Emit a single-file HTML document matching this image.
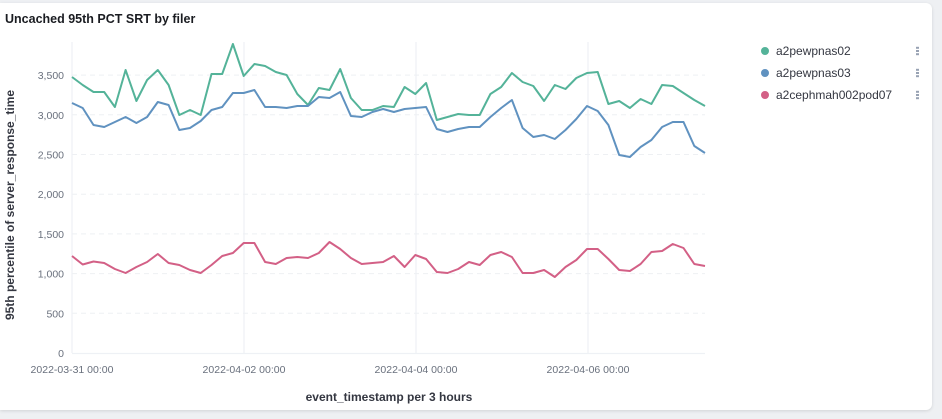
<!DOCTYPE html>
<html><head><meta charset="utf-8"><style>
html,body{margin:0;padding:0;background:#eef0f3;width:942px;height:419px;overflow:hidden;font-family:"Liberation Sans",sans-serif}
.card{position:absolute;left:0;top:3px;width:932px;height:407px;background:#fff;border-radius:0 6px 6px 0;box-shadow:0 1px 3px rgba(0,0,0,.12)}
svg{position:absolute;left:0;top:0}
</style></head><body>
<div class="card"></div>
<svg width="942" height="419" id="s" font-family="Liberation Sans, sans-serif">
<text x="5" y="23" font-size="12.5" font-weight="bold" fill="#1a1c21">Uncached 95th PCT SRT by filer</text>
<g stroke="#eef0f3" stroke-width="1" stroke-dasharray="5,4" id="grid"></g>
<g stroke="#eef1f5" stroke-width="1.2">
<line x1="72" y1="42" x2="72" y2="353"/><line x1="244" y1="42" x2="244" y2="353"/><line x1="416" y1="42" x2="416" y2="353"/><line x1="588" y1="42" x2="588" y2="353"/>
<line x1="72" y1="353.5" x2="705" y2="353.5"/></g>
<g font-size="10.5" fill="#69707d" text-anchor="end" id="yl"></g>
<g font-size="10.5" fill="#69707d" text-anchor="middle">
<text x="72" y="373">2022-03-31 00:00</text><text x="244" y="373">2022-04-02 00:00</text><text x="416" y="373">2022-04-04 00:00</text><text x="588" y="373">2022-04-06 00:00</text></g>
<text x="389" y="401" font-size="12" font-weight="bold" fill="#343741" text-anchor="middle">event_timestamp per 3 hours</text>
<text transform="translate(14,205) rotate(-90)" font-size="12" font-weight="bold" fill="#343741" text-anchor="middle">95th percentile of server_response_time</text>
<g fill="none" stroke-width="2" stroke-linejoin="round" id="lines"></g>
<g font-size="12" fill="#343741">
<circle cx="765" cy="51" r="4" fill="#54b399"/><text x="776" y="55">a2pewpnas02</text>
<circle cx="765" cy="73" r="4" fill="#6092c0"/><text x="776" y="77">a2pewpnas03</text>
<circle cx="765" cy="95" r="4" fill="#d36086"/><text x="776" y="99">a2cephmah002pod07</text>
</g>
<g fill="#98a2b3" id="dots"></g>
</svg>
<script>
var ns="http://www.w3.org/2000/svg";
function el(t,a,p){var e=document.createElementNS(ns,t);for(var k in a)e.setAttribute(k,a[k]);document.getElementById(p).appendChild(e);return e;}
var labs=["0","500","1,000","1,500","2,000","2,500","3,000","3,500"];
for(var i=0;i<8;i++){var y=353-i*39.7;if(i>0)el("line",{x1:72,x2:705,y1:y,y2:y},"grid");var t=el("text",{x:64,y:y+4},"yl");t.textContent=labs[i];}
var g=[77,85,92,92,107,70,101,80,70,85,115,110,115,74,74,44,76,64,66,72,75,94,105,88,90,69,98,110,110,106,107,87,94,83,120,117,114,115,115,94,87,73,82,86,101,85,89,78,73,72,104,101,108,99,104,85,86,93,100,106];
var b=[103,108,125,127,122,117,123,117,102,105,130,128,121,110,107,93,93,90,107,107,108,106,106,97,98,92,116,117,112,109,112,109,108,107,129,132,129,127,127,117,108,100,128,137,135,139,130,119,106,111,125,155,157,147,140,127,122,122,146,153];
var p=[256,264.5,261.5,263,269,273,267,262,254,263,265,270,273,265,256,253,243,243,262,264,258,257,258,253,242,249,258,264,263,262,256,267,255,259,272,273,269,262,265,255,252,257,273,273,270,277,267,260,249,249,259,270,271,264,252,251,244,248,264,266];
function pl(a,c){var s=a.map(function(y,i){return (72+i*633/59).toFixed(1)+","+y;}).join(" ");el("polyline",{points:s,stroke:c},"lines");}
pl(g,"#54b399");pl(b,"#6092c0");pl(p,"#d36086");
[51,73,95].forEach(function(y){for(var j=-1;j<=1;j++)el("rect",{x:916,y:y-1+j*3.2,width:3,height:2},"dots");});
</script>
</body></html>
